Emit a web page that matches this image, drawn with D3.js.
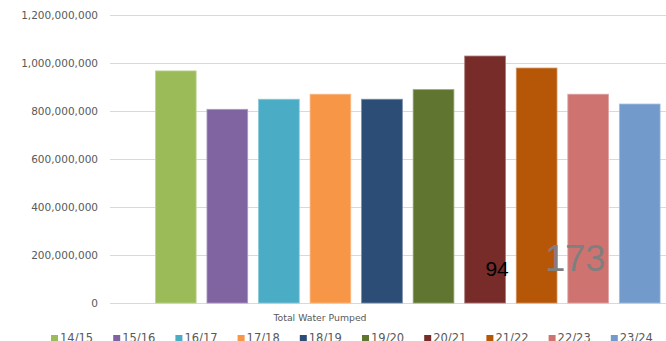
<!DOCTYPE html>
<html><head><meta charset="utf-8">
<script src="https://cdn.jsdelivr.net/npm/d3@7"></script>
<style>html,body{margin:0;padding:0;background:#fff;overflow:hidden}</style>
</head><body>
<svg id="c" width="666" height="341"></svg>
<script>
const categories = ["Total Water Pumped"];
const seriesNames = ["14/15","15/16","16/17","17/18","18/19","19/20","20/21","21/22","22/23","23/24"];
const seriesValues = [967e6, 807e6, 849e6, 870e6, 849e6, 889e6, 1029e6, 979e6, 870e6, 829e6];
const seriesColors = ["#9BBB59","#8064A2","#4BACC6","#F79646","#2C4D75","#5F7530","#772C2A","#B65708","#CF7371","#729ACA"];
const yTicks = [0, 200e6, 400e6, 600e6, 800e6, 1000e6, 1200e6];
const annotationTexts = ["94", "173"];

const svg = d3.select("#c");
const y = d3.scaleLinear().domain([0, 1200e6]).range([303, 15]);
const xCat = d3.scaleBand().domain(categories).range([150, 665.5]);
const x = d3.scaleBand().domain(seriesNames).range([xCat(categories[0]), xCat(categories[0]) + xCat.bandwidth()]).paddingInner(0.21).paddingOuter(0.105);

// gridlines
svg.append("g").selectAll("line").data(yTicks).join("line")
  .attr("x1", 110).attr("x2", 666)
  .attr("y1", d => Math.round(y(d)) + 0.5).attr("y2", d => Math.round(y(d)) + 0.5)
  .attr("stroke", "#D9D9D9").attr("stroke-width", 1);

// y labels
const fmt = d3.format(",");
svg.append("g").selectAll("text").data(yTicks).join("text")
  .attr("x", 98).attr("y", d => y(d)).attr("dy", "0.35em")
  .attr("text-anchor", "end")
  .attr("font-family", "DejaVu Sans, sans-serif").attr("font-size", 10.5)
  .attr("fill", "#595959").text(d => fmt(d));

// bars
const data = seriesNames.map((s, i) => ({s, v: seriesValues[i], c: seriesColors[i]}));
svg.append("g").selectAll("rect").data(data).join("rect")
  .attr("x", d => x(d.s)).attr("width", x.bandwidth())
  .attr("y", d => y(d.v)).attr("height", d => y(0) - y(d.v))
  .attr("fill", d => d.c)
  .attr("stroke", d => d3.interpolateRgb(d.c, "#fff")(0.35)).attr("stroke-width", 0.8);

// category label
svg.append("text").attr("x", 320).attr("y", 320.5)
  .attr("text-anchor", "middle")
  .attr("font-family", "DejaVu Sans, sans-serif").attr("font-size", 9.3)
  .attr("fill", "#595959").text(categories[0]);

// legend
const lg = svg.append("g");
data.forEach((d, i) => {
  const lx = 51 + i * 62.2;
  lg.append("rect").attr("x", lx).attr("y", 335).attr("width", 7).attr("height", 7).attr("fill", d.c);
  lg.append("text").attr("x", lx + 9).attr("y", 342)
    .attr("font-family", "DejaVu Sans, sans-serif").attr("font-size", 11.5)
    .attr("fill", "#595959").text(d.s);
});

// stray labels
const cx = s => x(s) + x.bandwidth() / 2;
svg.append("text").attr("x", cx("20/21") + 12).attr("y", 276)
  .attr("text-anchor", "middle").attr("font-family", "Liberation Sans, Arial, sans-serif")
  .attr("font-size", 21).attr("fill", "#000").text(annotationTexts[0]);
svg.append("text").attr("x", cx("22/23") - 13).attr("y", 271)
  .attr("text-anchor", "middle").attr("font-family", "Liberation Sans, Arial, sans-serif")
  .attr("font-size", 36).attr("fill", "#7F7F7F").text(annotationTexts[1]);
</script>
</body></html>
